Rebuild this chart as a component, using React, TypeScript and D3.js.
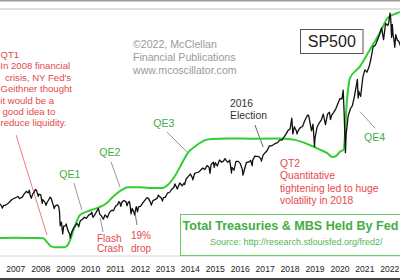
import React from "react";
import * as d3 from "d3";

// S&P 500 (decimal year, index level)
const spx: [number, number][] = [
  [2006.33,1311],[2006.42,1270],[2006.46,1223],[2006.5,1270],[2006.58,1277],[2006.67,1304],[2006.75,1336],[2006.83,1378],[2006.92,1401],[2007.0,1418],
  [2007.08,1438],[2007.15,1400],[2007.17,1407],[2007.25,1421],[2007.33,1482],[2007.42,1531],[2007.5,1503],[2007.54,1553],[2007.58,1455],[2007.62,1406],[2007.67,1474],[2007.75,1527],[2007.78,1565],[2007.83,1549],[2007.9,1440],[2007.92,1481],[2008.0,1468],
  [2008.06,1310],[2008.08,1379],[2008.17,1331],[2008.21,1276],[2008.25,1323],[2008.33,1386],[2008.38,1426],[2008.42,1400],[2008.5,1280],[2008.54,1215],[2008.58,1267],[2008.67,1283],[2008.72,1250],[2008.75,1165],[2008.78,899],[2008.83,969],[2008.88,752],[2008.92,896],[2009.0,903],
  [2009.02,934],[2009.08,826],[2009.17,735],[2009.18,677],[2009.25,798],[2009.33,873],[2009.42,919],[2009.45,946],[2009.5,919],[2009.52,880],[2009.58,987],[2009.67,1021],[2009.75,1057],[2009.83,1036],[2009.92,1096],[2010.0,1115],
  [2010.05,1150],[2010.08,1074],[2010.1,1056],[2010.17,1104],[2010.25,1169],[2010.31,1217],[2010.33,1187],[2010.37,1110],[2010.42,1089],[2010.5,1031],[2010.51,1022],[2010.58,1102],[2010.65,1064],[2010.67,1049],[2010.75,1141],[2010.83,1183],[2010.92,1181],[2011.0,1258],
  [2011.08,1286],[2011.13,1343],[2011.17,1327],[2011.21,1256],[2011.25,1326],[2011.33,1364],[2011.42,1345],[2011.46,1268],[2011.5,1321],[2011.55,1345],[2011.58,1292],[2011.62,1120],[2011.67,1219],[2011.75,1131],[2011.76,1099],[2011.83,1253],[2011.88,1158],[2011.92,1247],[2012.0,1258],
  [2012.08,1312],[2012.17,1366],[2012.25,1408],[2012.26,1419],[2012.33,1398],[2012.42,1310],[2012.43,1278],[2012.5,1362],[2012.58,1379],[2012.67,1407],[2012.72,1465],[2012.75,1441],[2012.83,1412],[2012.88,1353],[2012.92,1416],[2013.0,1426],
  [2013.08,1498],[2013.17,1515],[2013.25,1569],[2013.33,1598],[2013.38,1669],[2013.42,1631],[2013.48,1573],[2013.5,1606],[2013.58,1686],[2013.67,1633],[2013.75,1682],[2013.77,1655],[2013.83,1757],[2013.92,1806],[2014.0,1848],
  [2014.08,1783],[2014.1,1741],[2014.17,1859],[2014.25,1872],[2014.33,1884],[2014.42,1924],[2014.5,1960],[2014.58,1931],[2014.67,2003],[2014.75,1972],[2014.79,1862],[2014.83,2018],[2014.92,2068],[2014.96,1972],[2015.0,2059],
  [2015.08,1995],[2015.17,2105],[2015.25,2068],[2015.33,2086],[2015.39,2131],[2015.42,2107],[2015.5,2063],[2015.58,2104],[2015.65,1867],[2015.67,1972],[2015.75,1920],[2015.83,2079],[2015.92,2080],[2016.0,2044],
  [2016.08,1940],[2016.11,1829],[2016.17,1932],[2016.25,2060],[2016.33,2065],[2016.42,2097],[2016.48,2000],[2016.5,2099],[2016.58,2174],[2016.67,2171],[2016.75,2168],[2016.83,2126],[2016.85,2085],[2016.92,2199],[2017.0,2239],
  [2017.08,2279],[2017.17,2364],[2017.25,2363],[2017.33,2384],[2017.42,2412],[2017.5,2423],[2017.58,2470],[2017.67,2472],[2017.75,2519],[2017.83,2575],[2017.92,2648],[2018.0,2674],
  [2018.07,2873],[2018.11,2581],[2018.17,2714],[2018.25,2641],[2018.28,2582],[2018.33,2648],[2018.42,2705],[2018.5,2718],[2018.58,2816],[2018.67,2902],[2018.72,2931],[2018.75,2914],[2018.83,2712],[2018.86,2641],[2018.92,2760],[2018.98,2351],[2019.0,2507],
  [2019.08,2704],[2019.17,2784],[2019.25,2834],[2019.33,2946],[2019.42,2752],[2019.5,2942],[2019.58,2980],[2019.62,2847],[2019.67,2926],[2019.75,2977],[2019.83,3038],[2019.92,3141],[2020.0,3231],
  [2020.08,3226],[2020.13,3386],[2020.17,2954],[2020.22,2237],[2020.25,2585],[2020.33,2912],[2020.42,3044],[2020.5,3100],[2020.58,3271],[2020.67,3500],[2020.7,3580],[2020.73,3237],[2020.75,3363],[2020.83,3270],[2020.92,3622],[2021.0,3756],
  [2021.08,3714],[2021.17,3811],[2021.25,3973],[2021.33,4181],[2021.42,4204],[2021.5,4298],[2021.58,4395],[2021.67,4523],[2021.75,4308],[2021.83,4605],[2021.92,4567],[2021.96,4620],[2022.0,4766],[2022.01,4796],
  [2022.04,4670],[2022.07,4350],[2022.1,4590],[2022.13,4400],[2022.17,4300],[2022.2,4170],[2022.24,4400],[2022.3,4300],[2022.36,4280],[2022.42,4200],
];

// Treasuries + MBS held by Fed ($ billions)
const fedHoldings: [number, number][] = [
  [2006.3,780],[2007.0,785],[2007.8,780],[2008.1,770],[2008.25,640],[2008.4,500],[2008.55,465],[2008.96,465],[2009.1,560],[2009.2,760],
  [2009.35,1150],[2009.56,1560],[2009.84,1690],[2010.1,1770],[2010.37,1850],[2010.65,1990],[2010.89,2200],[2011.1,2350],[2011.25,2440],[2011.5,2530],
  [2012.0,2530],[2012.5,2510],[2012.9,2510],[2013.1,2620],[2013.4,2950],[2013.7,3420],[2013.9,3720],[2014.2,3950],[2014.4,4070],[2014.6,4160],
  [2014.85,4200],[2015.5,4215],[2016.5,4210],[2017.5,4215],[2017.8,4210],[2018.2,4170],[2018.5,4090],[2018.9,3950],[2019.2,3830],[2019.48,3720],
  [2019.7,3580],[2019.85,3620],[2020.0,3760],[2020.15,3830],[2020.2,4300],[2020.26,5300],[2020.32,5850],[2020.4,6300],[2020.8,6700],[2021.2,7280],
  [2021.6,7860],[2021.93,8400],[2022.3,8550],[2022.45,8600],
];

const yearLabels = d3.range(2007, 2023);

// pointer lines in data coordinates [year, S&P level]
const pointers: { from: [number, number]; to: [number, number]; color: string }[] = [
  { from: [2009.33, 1684], to: [2009.65, 1190], color: "#999" },
  { from: [2010.82, 2069], to: [2011.18, 1611], color: "#999" },
  { from: [2013.06, 2618], to: [2013.87, 2252], color: "#999" },
  { from: [2016.59, 2746], to: [2016.92, 2343], color: "#666" },
  { from: [2010.38, 1044], to: [2010.5, 787], color: "#999" },
  { from: [2011.78, 1135], to: [2011.86, 915], color: "#777" },
  { from: [2020.81, 2990], to: [2021.41, 2686], color: "#999" },
  { from: [2007.01, 2563], to: [2008.25, 732], color: "#e88080" },
];

const qt1Lines = [
  { t: "QT1", x: 0.5 },
  { t: "In 2008 financial", x: 0.3 },
  { t: "crisis, NY Fed's", x: 5 },
  { t: "Geithner thought", x: 0.5 },
  { t: "it would be a", x: 0.3 },
  { t: "good idea to", x: 2.5 },
  { t: "reduce liquidity.", x: 0.5 },
];
const qt2Lines = ["QT2", "Quantitative", "tightening led to huge", "volatility in 2018"];
const copyrightLines = ["©2022, McClellan", "Financial Publications", "www.mcoscillator.com"];

const FONT = "'Liberation Sans', Arial, sans-serif";
const RED = "#e5484d";
const GREEN_TXT = "#45ad45";

export default function App() {
  const W = 400, H = 280;
  const x = d3.scaleLinear().domain([2006, 2022]).range([-9.1, 389.8]);
  const yS = d3.scaleLinear().domain([0, 5000]).range([275, 1.9]);
  const yG = d3.scaleLinear().domain([0, 9000]).range([260.6, 0]);

  const spLine = d3.line<[number, number]>().x(d => x(d[0])).y(d => yS(d[1]))(spx) || "";
  const fedLine = d3.line<[number, number]>().x(d => x(d[0])).y(d => yG(d[1])).curve(d3.curveMonotoneX)(fedHoldings) || "";

  return (
    <svg width={W} height={H} style={{ position: "absolute", left: 0, top: 0, background: "#fff" }} fontFamily={FONT}>
      <rect x={0} y={0} width={W} height={H} fill="#fff" />
      <line x1={0} x2={W} y1={0.8} y2={0.8} stroke="#999" strokeWidth={1.6} />
      <line x1={0} x2={W} y1={9} y2={9} stroke="#d4d4d4" strokeWidth={1.5} />
      <line x1={0} x2={W} y1={256} y2={256} stroke="#d8d8d8" strokeWidth={1} />
      <line x1={0} x2={W} y1={279} y2={279} stroke="#444" strokeWidth={2} />

      {/* copyright */}
      {copyrightLines.map((t, i) => (
        <text key={t} x={133} y={48 + i * 13} fontSize={10.6} fill="#9a9a9a">{t}</text>
      ))}

      {/* SP500 box */}
      <rect x={300.5} y={29.5} width={62.5} height={24} fill="#fff" stroke="#555" strokeWidth={1} />
      <text x={331.8} y={47} fontSize={16} fill="#222" textAnchor="middle">SP500</text>

      {/* legend box */}
      <rect x={180.5} y={214.5} width={240} height={41} fill="#fff" stroke="#6c6" strokeWidth={1} />
      <text x={182.5} y={230} fontSize={12.6} fontWeight="bold" fill={GREEN_TXT}>Total Treasuries &amp; MBS Held By Fed</text>
      <text x={210} y={245} fontSize={9} fill="#55b555">Source: http://research.stlouisfed.org/fred2/</text>

      {/* pointers */}
      {pointers.map((p, i) => (
        <line key={i} x1={x(p.from[0])} y1={yS(p.from[1])} x2={x(p.to[0])} y2={yS(p.to[1])} stroke={p.color} strokeWidth={1} />
      ))}

      {/* series */}
      <path d={fedLine} fill="none" stroke="#33cc33" strokeWidth={2} />
      <path d={spLine} fill="none" stroke="#111" strokeWidth={1.3} strokeLinejoin="round" />

      {/* annotations */}
      {qt1Lines.map((l, i) => (
        <text key={i} x={l.x} y={58 + i * 11.4} fontSize={9.6} fill={RED}>{l.t}</text>
      ))}
      {qt2Lines.map((t, i) => (
        <text key={t} x={280} y={166.7 + i * 12.5} fontSize={10.3} fill={RED}>{t}</text>
      ))}
      <text x={59.3} y={177.7} fontSize={10.6} fill={GREEN_TXT}>QE1</text>
      <text x={99.3} y={156} fontSize={10.6} fill={GREEN_TXT}>QE2</text>
      <text x={153.3} y={127} fontSize={10.6} fill={GREEN_TXT}>QE3</text>
      <text x={364} y={141} fontSize={10.6} fill={GREEN_TXT}>QE4</text>
      <text x={230} y={107} fontSize={10.4} fill="#333">2016</text>
      <text x={230} y={119} fontSize={10.4} fill="#333">Election</text>
      <text x={97} y={242} fontSize={10} fill={RED}>Flash</text>
      <text x={97} y={252} fontSize={10} fill={RED}>Crash</text>
      <text x={131} y={239} fontSize={10} fill={RED}>19%</text>
      <text x={131} y={252} fontSize={10} fill={RED}>drop</text>

      {/* x axis labels */}
      {yearLabels.map(yr => (
        <text key={yr} x={x(yr)} y={272} fontSize={8.6} fill="#222" textAnchor="middle">{yr}</text>
      ))}
    </svg>
  );
}
